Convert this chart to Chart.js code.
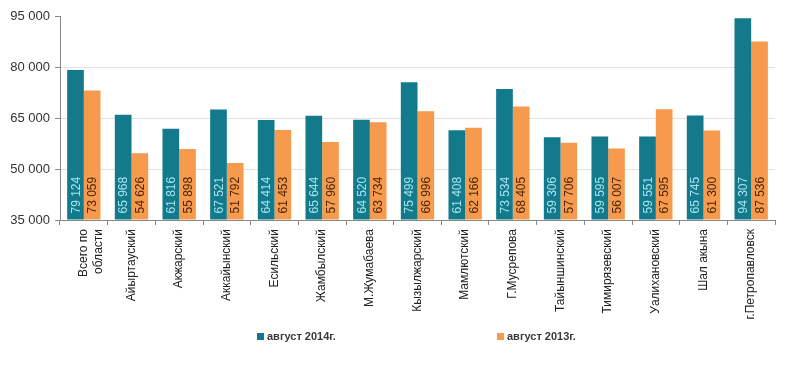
<!DOCTYPE html>
<html>
<head>
<meta charset="utf-8">
<script src="https://cdn.jsdelivr.net/npm/chart.js@4"></script>
<style>
  html, body { margin: 0; padding: 0; background: #fff; }
  #wrap { width: 800px; height: 368px; }
</style>
</head>
<body>
<div id="wrap"><canvas id="salaryChart"></canvas></div>
<script>
// Categories (districts)
const districts = [
    ['Всего по', 'области'], 'Айыртауский', 'Акжарский', 'Аккайынский', 'Есильский',
    'Жамбылский', 'М.Жумабаева', 'Кызылжарский', 'Мамлютский', 'Г.Мусрепова',
    'Тайыншинский', 'Тимирязевский', 'Уалихановский', 'Шал акына', 'г.Петропавловск'
];

// Series values
const aug2014 = [79124, 65968, 61816, 67521, 64414, 65644, 64520, 75499, 61408, 73534, 59306, 59595, 59551, 65745, 94307];
const aug2013 = [73059, 54626, 55898, 51792, 61453, 57960, 63734, 66996, 62166, 68405, 57706, 56007, 67595, 61300, 87536];

const seriesNames = ['август 2014г.', 'август 2013г.'];

// Axis ticks
const yMin = 35000;
const yMax = 95000;
const yStep = 15000;

const tealColor = '#137a8b';
const orangeColor = '#f69a4e';

function fmt(v) {
    return String(v).replace(/\B(?=(\d{3})+(?!\d))/g, ' ');
}

// Draws the value labels vertically at the base of each bar
const barLabels = {
    id: 'barLabels',
    afterDatasetsDraw(chart) {
        const ctx = chart.ctx;
        const textColors = ['#a6e4f0', '#4a2608'];
        const bottom = chart.scales.y.getPixelForValue(yMin);
        chart.data.datasets.forEach((ds, i) => {
            const meta = chart.getDatasetMeta(i);
            meta.data.forEach((bar, j) => {
                ctx.save();
                ctx.translate(bar.x + 1, Math.min(bar.base, bottom) - 6);
                ctx.rotate(-Math.PI / 2);
                ctx.font = '12px "Liberation Sans", Arial, sans-serif';
                ctx.fillStyle = textColors[i];
                ctx.textAlign = 'left';
                ctx.textBaseline = 'middle';
                ctx.fillText(fmt(ds.data[j]), 0, 0);
                ctx.restore();
            });
        });
    }
};

// Legend drawn below the axis labels, items spread apart as in the original
const spreadLegend = {
    id: 'spreadLegend',
    afterDraw(chart) {
        const ctx = chart.ctx;
        const xs = [257, 497];
        const y = 337;
        chart.data.datasets.forEach((ds, i) => {
            ctx.save();
            ctx.fillStyle = ds.backgroundColor;
            ctx.fillRect(xs[i], y - 4, 7, 7);
            ctx.font = 'bold 11px "Liberation Sans", Arial, sans-serif';
            ctx.fillStyle = '#3a3a3a';
            ctx.textAlign = 'left';
            ctx.textBaseline = 'middle';
            ctx.fillText(ds.label, xs[i] + 10, y);
            ctx.restore();
        });
    }
};

const ctx = document.getElementById('salaryChart').getContext('2d');
new Chart(ctx, {
    type: 'bar',
    data: {
        labels: districts,
        datasets: [
            { label: seriesNames[0], data: aug2014, backgroundColor: tealColor, base: yMin },
            { label: seriesNames[1], data: aug2013, backgroundColor: orangeColor, base: yMin }
        ]
    },
    options: {
        responsive: true,
        maintainAspectRatio: false,
        animation: false,
        events: [],
        layout: { padding: { top: 16, right: 25, left: 0, bottom: 0 } },
        datasets: {
            bar: { categoryPercentage: 0.7, barPercentage: 1.0 }
        },
        scales: {
            x: {
                grid: {
                    offset: true,
                    drawOnChartArea: false,
                    drawTicks: true,
                    tickLength: 5,
                    tickColor: '#888'
                },
                border: { display: true, color: '#888' },
                ticks: {
                    autoSkip: false,
                    minRotation: 90,
                    maxRotation: 90,
                    padding: 4,
                    color: '#222',
                    font: { family: '"Liberation Sans", Arial, sans-serif', size: 12 }
                },
                afterFit(scale) { scale.height = 148; }
            },
            y: {
                min: yMin,
                max: yMax,
                grid: {
                    color: c => (c.tick.value === yMax || c.tick.value === yMin) ? 'rgba(0,0,0,0)' : '#e2e2e2',
                    tickColor: '#888',
                    tickLength: 5
                },
                border: { display: true, color: '#888' },
                ticks: {
                    stepSize: yStep,
                    padding: 5,
                    color: '#333',
                    font: { family: '"Liberation Sans", Arial, sans-serif', size: 13 },
                    callback: v => fmt(v)
                },
                afterFit(scale) { scale.width = 60; }
            }
        },
        plugins: {
            legend: { display: false },
            tooltip: { enabled: false }
        }
    },
    plugins: [barLabels, spreadLegend]
});
</script>
</body>
</html>
